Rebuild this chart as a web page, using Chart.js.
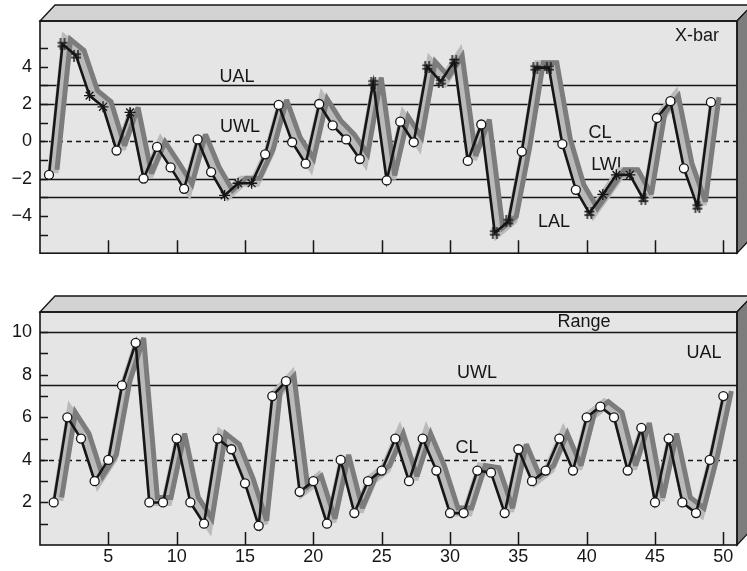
<!DOCTYPE html>
<html>
<head>
<meta charset="utf-8">
<script src="https://cdn.jsdelivr.net/npm/chart.js@4.4.1/dist/chart.umd.min.js"></script>
<style>
  html, body { margin: 0; padding: 0; background: #fff; }
  #wrap { position: relative; width: 747px; height: 571px; overflow: hidden; }
  canvas { position: absolute; left: 0; }
  #xbarChart { top: 0; }
  #rangeChart { top: 272px; }
</style>
</head>
<body>
<div id="wrap">
  <canvas id="xbarChart" width="747" height="272"></canvas>
  <canvas id="rangeChart" width="747" height="299"></canvas>
</div>
<script>
// sample numbers 1..50
const samples = [1,2,3,4,5,6,7,8,9,10,11,12,13,14,15,16,17,18,19,20,21,22,23,24,25,
                 26,27,28,29,30,31,32,33,34,35,36,37,38,39,40,41,42,43,44,45,46,47,48,49,50];

// X-bar chart
const xbarValues = [-1.8,5.2,4.6,2.45,1.85,-0.5,1.55,-2.0,-0.3,-1.4,-2.55,0.1,-1.65,-2.9,-2.25,-2.25,-0.7,1.95,-0.05,-1.2,
                    2.0,0.85,0.1,-0.95,3.15,-2.1,1.05,-0.05,4.0,3.2,4.3,-1.05,0.9,-4.9,-4.3,-0.55,3.95,3.95,-0.15,-2.6,
                    -3.85,-2.85,-1.8,-1.8,-3.1,1.25,2.15,-1.45,-3.5,2.1];
// o = in control, * = warning rule, # = action rule
const xbarMarks = ["o","#","#","*","*","o","*","o","o","o","o","o","o","*","*","*","o","o","o","o",
                   "o","o","o","o","#","o","o","o","#","#","#","o","o","#","#","o","#","#","o","o",
                   "#","*","*","*","#","o","o","o","#","o"];
const xbarLimitNames = ["UAL","UWL","CL","LWL","LAL"];
const xbarLimitValues = [3, 2, 0, -2, -3];
const xbarTicks = [-5,-4,-3,-2,-1,0,1,2,3,4,5];

// Range chart
const rangeValues = [2,6,5,3,4,7.5,9.5,2,2,5,2,1,5,4.5,2.9,0.9,7,7.7,2.5,3,
                     1,4,1.5,3,3.5,5,3,5,3.5,1.5,1.5,3.5,3.4,1.5,4.5,3,3.5,5,3.5,6,
                     6.5,6,3.5,5.5,2,5,2,1.5,4,7];
const rangeLimitNames = ["UAL","UWL","CL"];
const rangeLimitValues = [10, 7.5, 4];
const rangeTicks = [1,2,3,4,5,6,7,8,9,10];

const xTicks = [5,10,15,20,25,30,35,40,45,50];

const FONT = '"Liberation Sans", Arial, Helvetica, sans-serif';
const INK = "#161616";

function hashMark() {
  const c = document.createElement("canvas");
  c.width = 12; c.height = 12;
  const g = c.getContext("2d");
  g.strokeStyle = INK; g.lineWidth = 1.4;
  g.beginPath();
  g.moveTo(4, 0); g.lineTo(4, 12); g.moveTo(8, 0); g.lineTo(8, 12);
  g.moveTo(1, 4.5); g.lineTo(11, 4.5); g.moveTo(1, 8); g.lineTo(11, 8);
  g.stroke();
  return c;
}
const hashImg = hashMark();

function fmt(v) {
  return v < 0 ? "\u2212" + (-v) : String(v);
}

function pts(vals) {
  return samples.map((s, i) => ({ x: s, y: vals[i] }));
}

// box, limit lines, inner ticks, labels
const panelPlugin = {
  id: "panel",
  beforeDraw(chart) {
    const { ctx, chartArea: a } = chart;
    const d = 15;
    ctx.save();
    ctx.fillStyle = "#e5e5e5";
    ctx.fillRect(a.left, a.top, a.right - a.left, a.bottom - a.top);
    ctx.lineWidth = 1.3;
    ctx.strokeStyle = INK;
    // top face
    ctx.fillStyle = "#d3d3d3";
    ctx.beginPath();
    ctx.moveTo(a.left, a.top); ctx.lineTo(a.left + d, a.top - 16);
    ctx.lineTo(a.right + d, a.top - 16); ctx.lineTo(a.right, a.top);
    ctx.closePath(); ctx.fill(); ctx.stroke();
    // right face
    ctx.fillStyle = "#7d7d7d";
    ctx.beginPath();
    ctx.moveTo(a.right, a.top); ctx.lineTo(a.right + d, a.top - 16);
    ctx.lineTo(a.right + d, a.bottom - 16); ctx.lineTo(a.right, a.bottom);
    ctx.closePath(); ctx.fill(); ctx.stroke();
    ctx.restore();
  },
  beforeDatasetsDraw(chart, args, opts) {
    const { ctx, chartArea: a, scales } = chart;
    ctx.save();
    ctx.strokeStyle = INK;
    ctx.lineWidth = 1.3;
    opts.limitValues.forEach((v, i) => {
      const y = Math.round(scales.y.getPixelForValue(v)) + 0.5;
      ctx.setLineDash(opts.limitNames[i] === "CL" ? [5, 4] : []);
      ctx.beginPath(); ctx.moveTo(a.left, y); ctx.lineTo(a.right, y); ctx.stroke();
    });
    ctx.setLineDash([]);
    ctx.fillStyle = INK;
    ctx.font = "18px " + FONT;
    ctx.textAlign = "center";
    ctx.textBaseline = "alphabetic";
    opts.labels.forEach(l => ctx.fillText(l.text, l.x, l.y));
    ctx.restore();
  },
  afterDatasetsDraw(chart, args, opts) {
    const { ctx, chartArea: a, scales } = chart;
    ctx.save();
    ctx.strokeStyle = INK;
    ctx.lineWidth = 1.5;
    ctx.beginPath();
    opts.yTicks.forEach(v => {
      const y = Math.round(scales.y.getPixelForValue(v)) + 0.5;
      ctx.moveTo(a.left, y); ctx.lineTo(a.left + 8, y);
    });
    const xs = scales.x;
    xTicks.forEach(v => {
      const val = xs.min + (v / 51) * (xs.max - xs.min);
      const x = Math.round(xs.getPixelForValue(val)) + 0.5;
      ctx.moveTo(x, a.bottom); ctx.lineTo(x, a.bottom - 13);
    });
    ctx.stroke();
    ctx.lineWidth = 1.6;
    ctx.strokeRect(a.left, a.top, a.right - a.left, a.bottom - a.top);
    ctx.restore();
  }
};

// shift the ribbon datasets to give the 3D look
const shiftPlugin = {
  id: "shift",
  beforeDatasetDraw(chart, args) {
    const s = chart.data.datasets[args.index].shift;
    if (s) {
      chart.ctx.save();
      chart.ctx.translate(s[0], s[1]);
      chart.ctx.miterLimit = 3;
    }
  },
  afterDatasetDraw(chart, args) {
    if (chart.data.datasets[args.index].shift) chart.ctx.restore();
  }
};

function seriesSets(vals, styles, radii) {
  return [
    { data: pts(vals), borderColor: INK, borderWidth: 2.6,
      pointStyle: styles, pointRadius: radii, pointBackgroundColor: "#fff",
      pointBorderColor: INK, pointBorderWidth: 1.3 },
    { data: pts(vals), borderColor: "#7c7c7c", borderWidth: 5, pointRadius: 0, shift: [8, -5] },
    { data: pts(vals), borderColor: "#bababa", borderWidth: 11, pointRadius: 0, shift: [4, -2] }
  ];
}

function yAxis(min, max, ticks) {
  return {
    type: "linear", min, max,
    grid: { display: false, drawTicks: false }, border: { display: false },
    afterBuildTicks: s => { s.ticks = ticks.map(v => ({ value: v })); },
    afterFit: s => { s.width = 40; },
    ticks: { padding: 8, autoSkip: false, color: INK, font: { size: 18, family: FONT },
             callback: v => (v % 2 === 0 ? fmt(v) : "") }
  };
}

const baseOpts = {
  responsive: false, animation: false, events: [],
  plugins: { legend: { display: false }, tooltip: { enabled: false } }
};

new Chart(document.getElementById("xbarChart"), {
  type: "line",
  data: {
    datasets: seriesSets(
      xbarValues,
      xbarMarks.map(m => (m === "o" ? "circle" : m === "*" ? "star" : hashImg)),
      xbarMarks.map(m => (m === "o" ? 4.5 : 5.5))
    )
  },
  options: {
    ...baseOpts,
    layout: { padding: { left: 0, right: 10, top: 21, bottom: 8 } },
    scales: {
      x: { type: "linear", min: 0.334, max: 51.93, display: false },
      y: yAxis(-6, 6.45, xbarTicks)
    },
    plugins: {
      ...baseOpts.plugins,
      panel: {
        limitNames: xbarLimitNames, limitValues: xbarLimitValues, yTicks: xbarTicks,
        labels: [
          { text: "UAL", x: 237, y: 82 }, { text: "UWL", x: 240, y: 132 },
          { text: "CL", x: 600, y: 138 }, { text: "LWL", x: 609, y: 170 },
          { text: "LAL", x: 554, y: 227 }, { text: "X-bar", x: 697, y: 41 }
        ]
      }
    }
  },
  plugins: [panelPlugin, shiftPlugin]
});

new Chart(document.getElementById("rangeChart"), {
  type: "line",
  data: { datasets: seriesSets(rangeValues, "circle", 4.5) },
  options: {
    ...baseOpts,
    layout: { padding: { left: 0, right: 10, top: 40, bottom: 0 } },
    scales: {
      x: {
        type: "linear", min: 0, max: 51,
        grid: { display: false, drawTicks: false }, border: { display: false },
        afterBuildTicks: s => { s.ticks = xTicks.map(v => ({ value: v })); },
        afterFit: s => { s.height = 26; },
        ticks: { padding: 1, autoSkip: false, color: INK, font: { size: 18, family: FONT }, maxRotation: 0 }
      },
      y: yAxis(0, 10.95, rangeTicks)
    },
    plugins: {
      ...baseOpts.plugins,
      panel: {
        limitNames: rangeLimitNames, limitValues: rangeLimitValues, yTicks: rangeTicks,
        labels: [
          { text: "Range", x: 584, y: 55 }, { text: "UAL", x: 704, y: 86 },
          { text: "UWL", x: 477, y: 106 }, { text: "CL", x: 467, y: 181 }
        ]
      }
    }
  },
  plugins: [panelPlugin, shiftPlugin]
});
</script>
</body>
</html>
